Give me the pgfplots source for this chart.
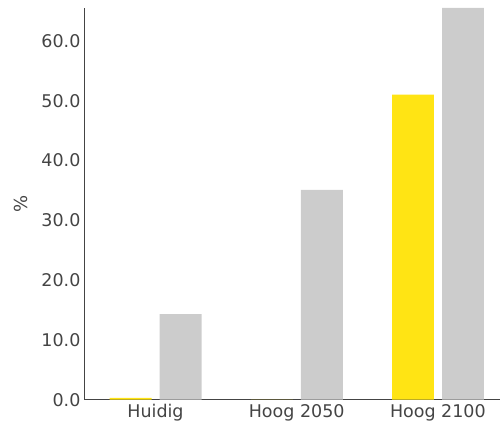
\documentclass[border=0pt]{standalone}
\usepackage{fontspec}
\setmainfont{DejaVu Sans}
\usepackage{pgfplots}
\pgfplotsset{compat=1.18}

\definecolor{geel}{HTML}{FFE414}
\definecolor{grijs}{HTML}{CCCCCC}
\definecolor{tekst}{HTML}{444444}

\begin{document}
\begin{tikzpicture}
\begin{axis}[
    at={(0,0)}, anchor=south west,
    scale only axis,
    width=415pt, height=392pt,
    ybar,
    bar width=0.297,
    xmin=-0.5, xmax=2.437,
    ymin=0, ymax=65.5,
    axis lines=left,
    axis line style={tekst, -, line width=0.9pt},
    xtick={0,1,2},
    xticklabels={Huidig, Hoog 2050, Hoog 2100},
    ytick={0,10,...,60},
    major tick length=0pt,
    tick style={draw=none},
    /pgf/number format/assume math mode=true,
    /pgf/number format/.cd, fixed, fixed zerofill, precision=1, /pgfplots/.cd,
    ticklabel style={font=\fontsize{17.5}{20}\selectfont, text=tekst},
    yticklabel style={xshift=-1pt},
    xticklabel style={yshift=-1pt},
    ylabel={\%},
    ylabel style={font=\fontsize{18}{20}\selectfont, text=tekst},
    ylabel shift=7pt,
    clip=false,
]
\addplot[draw=none, fill=geel, bar shift=-0.176] coordinates {(0,0.3) (1,0) (2,51.0)};
\addplot[draw=none, fill=grijs, bar shift=0.178] coordinates {(0,14.3) (1,35.1) (2,65.5)};
\end{axis}
\path[use as bounding box] (-85pt,-24pt) rectangle (415pt,400pt);
\end{tikzpicture}
\end{document}
